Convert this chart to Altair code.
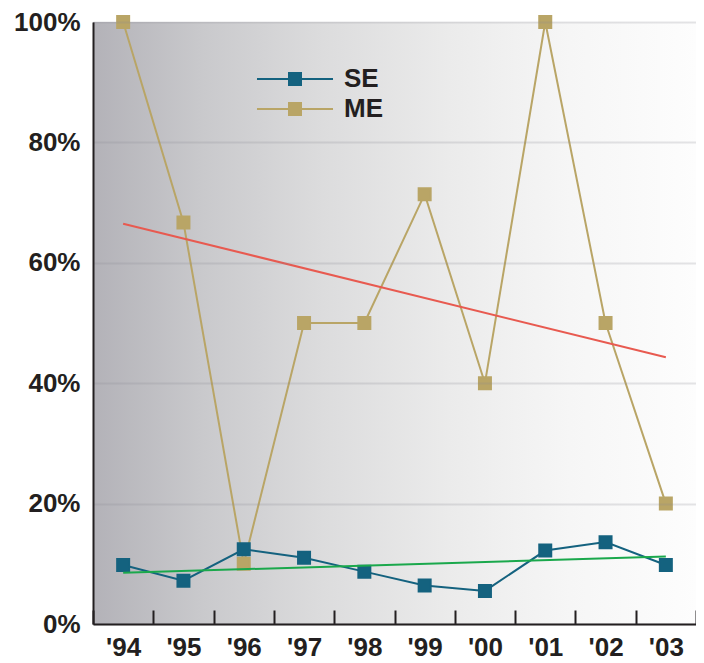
import altair as alt
import pandas as pd

years = ["'94", "'95", "'96", "'97", "'98", "'99", "'00", "'01", "'02", "'03"]
se_values = [9.8, 7.2, 12.4, 11.0, 8.7, 6.4, 5.5, 12.2, 13.6, 9.8]
me_values = [100, 66.7, 10, 50, 50, 71.4, 40, 100, 50, 20]
series_names = ["SE", "ME"]
series_colors = ["#14627f", "#b9a566"]

trend_years = ["'94", "'03"]
me_trend = [66.5, 44.3]
se_trend = [8.5, 11.2]
trend_names = ["ME trend", "SE trend"]
trend_colors = ["#e85a50", "#1aa84c"]

y_ticks = [0, 20, 40, 60, 80, 100]

W = 603
H = 602
FONT = "Liberation Sans"
TEXT = "#231f20"

rows = []
for name, vals in [("ME", me_values), ("SE", se_values)]:
    for i, (yr, v) in enumerate(zip(years, vals)):
        rows.append({"year": yr, "value": v, "series": name, "order": i})
df = pd.DataFrame(rows)

trows = []
for name, vals in [("ME trend", me_trend), ("SE trend", se_trend)]:
    for yr, v in zip(trend_years, vals):
        trows.append({"year": yr, "value": v, "trend": name})
tdf = pd.DataFrame(trows)

xscale = alt.Scale(type="band", domain=years, paddingInner=0, paddingOuter=0)
yscale = alt.Scale(domain=[0, 100], nice=False)

x_axis = alt.Axis(
    title=None, labelFont=FONT, labelFontSize=26, labelFontWeight="bold",
    labelColor=TEXT, labelPadding=10, ticks=False, tickBand="extent",
    grid=True, gridColor="#231f20", gridWidth=2, gridDash=[14, H - 14],
    gridDashOffset=14,
    domainColor="#231f20", domainWidth=2, zindex=1, labelAngle=0,
)
y_axis = alt.Axis(
    title=None, values=y_ticks, labelExpr="datum.value + '%'",
    labelFont=FONT, labelFontSize=26, labelFontWeight="bold",
    labelColor=TEXT, labelPadding=13, ticks=False,
    grid=True, gridColor="#8a8a90", gridOpacity=0.22, gridWidth=2,
    domainColor="#231f20", domainWidth=2, zindex=1,
)

bg = alt.Chart(pd.DataFrame({"a": [0]})).mark_rect(
    color=alt.LinearGradient(
        gradient="linear", x1=0, x2=1, y1=0, y2=0,
        stops=[
            alt.GradientStop(color="#b3b2b8", offset=0),
            alt.GradientStop(color="#c9c9cc", offset=0.18),
            alt.GradientStop(color="#dcdcdd", offset=0.38),
            alt.GradientStop(color="#ebebeb", offset=0.59),
            alt.GradientStop(color="#f6f6f6", offset=0.79),
            alt.GradientStop(color="#fdfdfd", offset=1),
        ],
    )
).encode(x=alt.value(0), x2=alt.value(W), y=alt.value(0), y2=alt.value(H))

color_scale = alt.Scale(domain=series_names, range=series_colors)

legend = alt.Legend(
    title=None, orient="none", legendX=189, legendY=44,
    symbolType="M-5.43,0H5.43M-0.857,-0.857H0.857V0.857H-0.857Z",
    symbolSize=196, symbolStrokeWidth=2,
    labelFont=FONT, labelFontSize=26, labelFontWeight="bold", labelColor=TEXT,
    labelOffset=36, rowPadding=4,
)

lines = alt.Chart(df).mark_line(strokeWidth=2).encode(
    x=alt.X("year:N", scale=xscale, axis=x_axis, sort=years),
    y=alt.Y("value:Q", scale=yscale, axis=y_axis),
    stroke=alt.Stroke("series:N", scale=color_scale, legend=legend),
    order="order:Q",
)

points = alt.Chart(df).mark_point(filled=True, shape="square", size=144, strokeWidth=2, opacity=1).encode(
    x=alt.X("year:N", scale=xscale, sort=years),
    y=alt.Y("value:Q", scale=yscale),
    fill=alt.Fill("series:N", scale=color_scale, legend=legend),
    stroke=alt.Stroke("series:N", scale=color_scale, legend=legend),
)

trend = alt.Chart(tdf).mark_line(strokeWidth=2).encode(
    x=alt.X("year:N", scale=xscale, sort=years),
    y=alt.Y("value:Q", scale=yscale),
    detail="trend:N",
    color=alt.Color("trend:N", scale=alt.Scale(domain=trend_names, range=trend_colors), legend=None),
)

chart = alt.layer(bg, lines, points, trend).resolve_scale(color="independent").properties(
    width=W, height=H,
    autosize=alt.AutoSizeParams(type="none"),
    padding={"left": 85, "top": 14, "right": 0, "bottom": 36},
).configure_view(stroke="#e4e4e4", strokeWidth=1)

chart.save("out.html", embed_options={"renderer": "svg", "actions": False})
